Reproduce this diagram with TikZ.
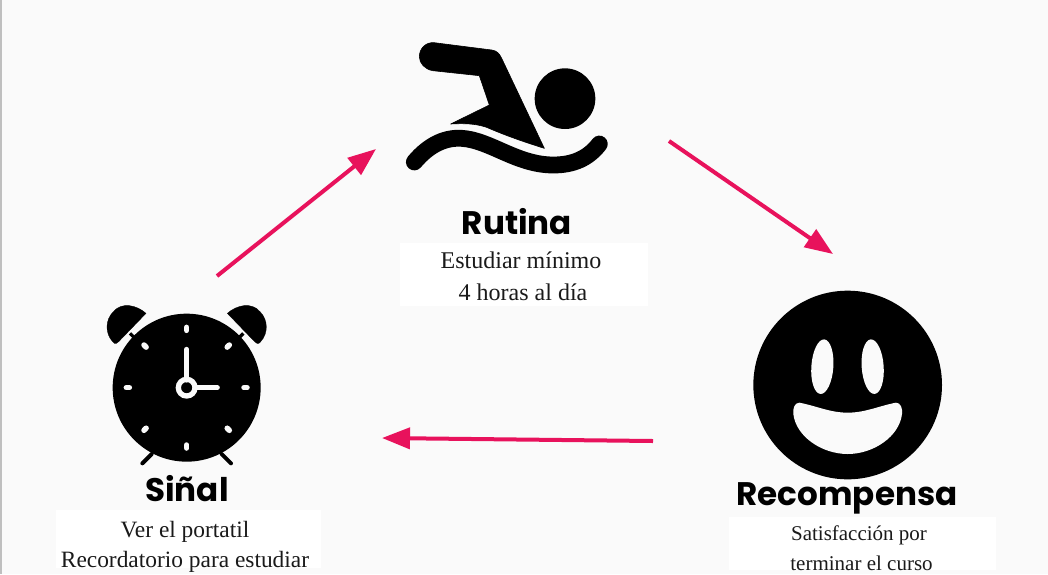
\documentclass[tikz,border=0pt]{standalone}
\usepackage{fontspec}
\setmainfont{Liberation Serif}
\newfontfamily\titlefont{Poppins}
\usetikzlibrary{arrows.meta}
\definecolor{bgc}{HTML}{FAFAFA}
\definecolor{pinkc}{HTML}{E8125C}
\definecolor{txtc}{HTML}{1A1A1A}
\tikzset{
  x=1pt,y=-1pt,
  flow/.style={draw=pinkc,line width=4pt,-{Triangle[length=28pt,width=21pt]},shorten >=0pt},
  titlelabel/.style={font=\titlefont\fontsize{32.6}{36}\selectfont\bfseries,text=black,inner sep=0pt,anchor=center},
  bodylabel/.style={text=txtc,inner sep=0pt,align=center,anchor=center},
  whitepanel/.style={fill=white,draw=none},
  whitemark/.style={draw=bgc,line cap=round},
}
\begin{document}
\begin{tikzpicture}
\useasboundingbox (0,0) rectangle (1048,574);
\fill[bgc] (0,0) rectangle (1048,574);
\fill[black!25] (0,0) rectangle (1.5,574);
% panels
\fill[whitepanel] (400,243) rectangle (648,306);
\fill[whitepanel] (56,510) rectangle (321,568);
\fill[whitepanel] (729,517) rectangle (996,570);
% swimmer
\begin{scope}[shift={(390,30)},scale=1/3]
  \fill[black] (525,206) circle (91);
  \fill[black,draw=black,line width=0.6pt,line join=round]
    (132,38) -- (305,60) .. controls (320,62) and (328,70) .. (335,85)
    -- (463,355) .. controls (400,335) and (350,318) .. (290,292)
    .. controls (255,280) and (220,280) .. (182,282)
    -- (298,225) -- (268,137) -- (128,122)
    .. controls (105,118) and (88,100) .. (88,80)
    .. controls (88,55) and (108,36) .. (132,38) -- cycle;
  \draw[black,line width=16.8pt,line cap=round]
    (73,396) .. controls (120,340) and (170,322) .. (215,325)
    .. controls (300,330) and (380,405) .. (490,405)
    .. controls (550,405) and (595,385) .. (628,342);
\end{scope}
% clock
\begin{scope}[shift={(90,290)},scale=1/3]
  \fill[black] (290,293) circle (222);
  \foreach \m in {1,-1}{
    \begin{scope}[xshift=290,xscale=\m]
      \fill[black,draw=black,line width=0.3pt,line join=round]
        (-122,70) .. controls (-150,45) and (-195,35) .. (-220,65)
        .. controls (-245,90) and (-245,130) .. (-222,155)
        .. controls (-215,165) and (-208,160) .. (-204,155) -- cycle;
      \draw[black,line width=3.3pt] (-170,130) -- (-150,150);
      \draw[black,line width=4pt,line cap=round] (-105,492) -- (-133,520);
    \end{scope}
  }
  \foreach \a in {0,45,...,315}{
    \draw[whitemark,line width=5.5pt] (290,293) ++(\a:172) -- ++(\a:9);
  }
  \draw[whitemark,line width=5pt] (290,270) -- (290,178);
  \draw[whitemark,line width=5pt] (320,293) -- (382,293);
  \draw[bgc,line width=5.3pt] (290,293) circle (25);
\end{scope}
% smiley
\begin{scope}[shift={(740,280)},scale=1/3]
  \fill[black] (323,315) circle (283);
  \fill[bgc,rotate around={-4:(247,260)}] (247,260) ellipse (33 and 82);
  \fill[bgc,rotate around={4:(398,260)}] (398,260) ellipse (33 and 82);
  \fill[bgc] (178,368) .. controls (230,378) and (270,398) .. (323,398)
    .. controls (376,398) and (416,378) .. (468,368)
    .. controls (482,368) and (488,385) .. (486,402)
    .. controls (478,470) and (400,522) .. (323,522)
    .. controls (246,522) and (168,470) .. (160,402)
    .. controls (158,385) and (164,368) .. (178,368) -- cycle;
\end{scope}
% labels
\node[titlelabel] (rutina) at (517,222) {Rutina};
\node[titlelabel] (senal) at (187,489) {Siñal};
\node[titlelabel] (recompensa) at (847,498) {Recompensa};
\node[bodylabel,font=\fontsize{24}{32}\selectfont] (rutinatxt) at (521,276) {Estudiar mínimo\\\hspace*{4pt}4 horas al día};
\node[bodylabel,font=\fontsize{23.4}{30}\selectfont] (senaltxt) at (185,546.5) {Ver el portatil\\Recordatorio para estudiar};
\node[bodylabel,font=\fontsize{21}{29.5}\selectfont] (recomptxt) at (859,548) {Satisfacción por\\\hspace*{5pt}terminar el curso};
% connectors
\coordinate (a1) at (217,276); \coordinate (a2) at (376,149);
\coordinate (b1) at (669,141); \coordinate (b2) at (833,254);
\coordinate (c1) at (653,441); \coordinate (c2) at (382,438);
\draw[flow] (a1) -- (a2);
\draw[flow] (b1) -- (b2);
\draw[flow] (c1) -- (c2);
\end{tikzpicture}
\end{document}
